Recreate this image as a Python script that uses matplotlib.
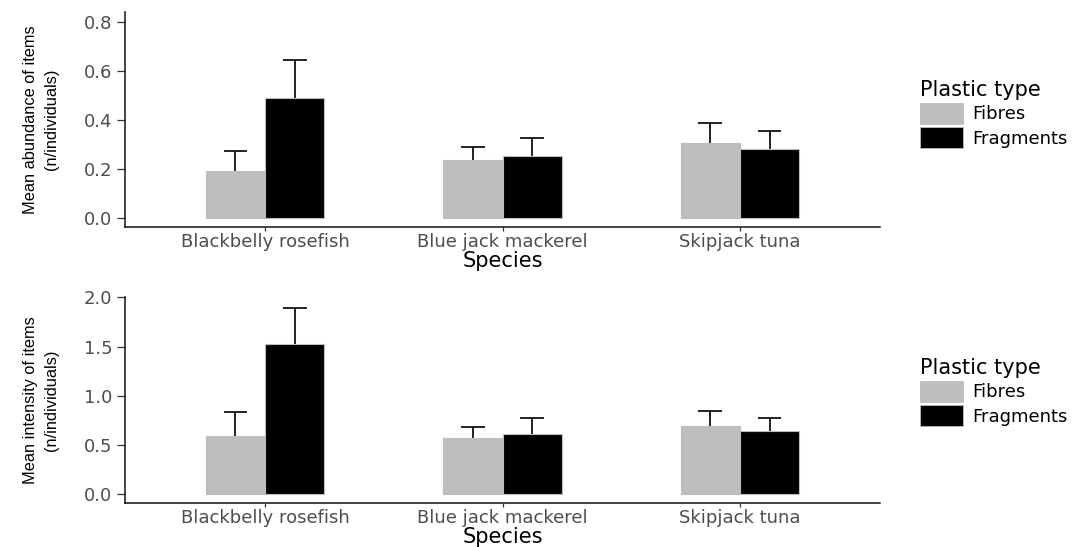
import numpy as np
import matplotlib
matplotlib.use("Agg")
import matplotlib.pyplot as plt
from matplotlib.patches import Patch

species = ["Blackbelly rosefish", "Blue jack mackerel", "Skipjack tuna"]
plastic_types = ["Fibres", "Fragments"]
colours = ["#bebebe", "#000000"]

# mean abundance (n/individuals) and upper error bar lengths
abund_fibres = [0.192, 0.234, 0.304]
abund_fibres_err = [0.081, 0.055, 0.083]
abund_frag = [0.490, 0.253, 0.279]
abund_frag_err = [0.152, 0.074, 0.075]

# mean intensity (n/individuals)
inten_fibres = [0.594, 0.570, 0.689]
inten_fibres_err = [0.241, 0.116, 0.156]
inten_frag = [1.524, 0.614, 0.638]
inten_frag_err = [0.367, 0.163, 0.139]

tick_col = "#4d4d4d"
plt.rcParams["font.family"] = ["DejaVu Sans"]

fig = plt.figure(figsize=(10.83, 5.47), dpi=100)
ax1 = fig.add_axes([125/1083, 1-227/547, 755/1083, 215/547])
ax2 = fig.add_axes([125/1083, 1-503/547, 755/1083, 206/547])

x = np.arange(1, len(species) + 1)
w = 0.25
cap = 0.1


def panel(ax, fib, fib_err, frag, frag_err, ylim, yticks, ylab, legend_top):
    for off, vals, errs, col in [(-w/2, fib, fib_err, colours[0]),
                                 (w/2, frag, frag_err, colours[1])]:
        xs = x + off
        tops = np.array(vals) + np.array(errs)
        ax.bar(xs, vals, width=w, color=col, edgecolor="#bdbdbd",
               linewidth=0.8, zorder=2)
        # upper whisker only, like the original
        ax.vlines(xs, vals, tops, color="#111111", linewidth=1.3, zorder=1)
        ax.hlines(tops, xs - cap/2, xs + cap/2, color="#111111",
                  linewidth=1.3, zorder=1)
    ax.set_xlim(0.41, 3.59)
    ax.set_ylim(*ylim)
    ax.set_yticks(yticks)
    ax.set_yticklabels([f"{t:.1f}" for t in yticks])
    ax.set_xticks(x)
    ax.set_xticklabels(species)
    for s in ["top", "right"]:
        ax.spines[s].set_visible(False)
    for s in ["left", "bottom"]:
        ax.spines[s].set_linewidth(1.1)
        ax.spines[s].set_color("#111111")
    ax.tick_params(axis="y", length=6, width=0.9, color="#333333",
                   labelcolor=tick_col, labelsize=13, pad=3)
    ax.tick_params(axis="x", length=3, width=0.9, color="#333333",
                   labelcolor=tick_col, labelsize=13, pad=1.5)
    ax.set_xlabel("Species", fontsize=15, labelpad=0)
    pos = ax.get_position()
    fig.text(41/1083, pos.y0 + pos.height/2, ylab, rotation=90,
             ha="center", va="center", multialignment="center",
             fontsize=11.8, linespacing=1.55, family="Liberation Sans")
    handles = [Patch(facecolor=c, edgecolor="#bdbdbd", linewidth=0.6)
               for c in colours]
    ax.legend(handles, plastic_types, title="Plastic type",
              loc="upper left", frameon=False,
              bbox_to_anchor=(920/1083, 1-legend_top/547),
              bbox_transform=fig.transFigure, fontsize=13,
              title_fontsize=15, handlelength=2.4, handleheight=1.45,
              labelspacing=0.15, handletextpad=0.5, borderpad=0,
              borderaxespad=0, alignment="left")


panel(ax1, abund_fibres, abund_fibres_err, abund_frag, abund_frag_err,
      (-0.038, 0.84), [0.0, 0.2, 0.4, 0.6, 0.8],
      "Mean abundance of items\n(n/individuals)", 80)
panel(ax2, inten_fibres, inten_fibres_err, inten_frag, inten_frag_err,
      (-0.092, 2.005), [0.0, 0.5, 1.0, 1.5, 2.0],
      "Mean intensity of items\n(n/individuals)", 358)

fig.savefig("out.png", dpi=100)
